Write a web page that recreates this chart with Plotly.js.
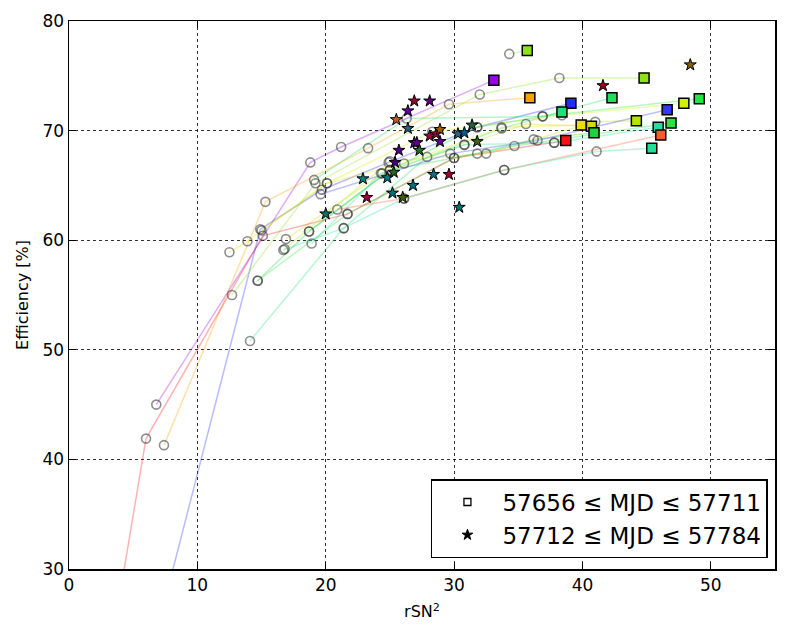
<!DOCTYPE html>
<html>
<head>
<meta charset="utf-8">
<script src="https://cdn.plot.ly/plotly-3.0.1.min.js"></script>
<style>
  body { margin: 0; background: #fff; }
  #plot { width: 789px; height: 638px; }
</style>
</head>
<body>
<div id="plot"></div>
<script>
// one series per night: rSN2 (x) and efficiency (y), last point is the square
const seriesX = [
  [6.8, 18.8, 21.2, 33.1],
  [34.3, 35.7],
  [7.4, 15.3, 23.3, 29.6, 35.9],
  [6.5, 14.9, 19.7, 24.9, 31.8, 39.1],
  [14.1, 21.4, 27.9, 33.7, 38.4],
  [19.1, 26.3, 36.9, 42.3],
  [12.7, 19.2, 32.0, 38.2, 44.8],
  [12.5, 13.9, 20.1, 26.1, 33.7, 39.9],
  [16.9, 24.4, 30.8, 35.6, 40.7],
  [14.7, 18.7, 25.0, 31.8, 36.2, 40.9],
  [3.5, 6.0, 15.1, 21.7, 30.0, 37.8, 38.7],
  [16.8, 25.0, 32.5, 41.0, 44.2],
  [19.6, 29.7, 36.5, 46.6],
  [15.0, 20.1, 28.3, 38.4, 47.9],
  [18.7, 25.0, 31.8, 36.9, 49.1],
  [14.7, 21.7, 30.0, 34.7, 46.9],
  [18.9, 24.3, 30.8, 37.8, 45.9],
  [20.9, 26.1, 33.9, 46.1],
  [16.7, 21.4, 26.1, 33.9, 41.1, 45.4]
];
const seriesY = [
  [45.0, 67.1, 68.5, 74.6],
  [77.0, 77.3],
  [41.3, 63.5, 68.4, 72.4, 73.0],
  [22.7, 61.0, 64.6, 67.1, 70.3, 72.5],
  [50.8, 61.1, 67.6, 70.2, 71.7],
  [65.5, 71.1, 71.3, 73.0],
  [55.0, 65.2, 73.3, 74.8, 74.8],
  [58.9, 59.9, 65.2, 67.0, 70.3, 70.5],
  [60.1, 66.1, 68.7, 70.6, 70.4],
  [56.3, 60.8, 66.4, 67.9, 69.2, 69.8],
  [24.4, 41.9, 60.4, 62.4, 67.5, 68.9, 69.1],
  [59.2, 67.2, 67.9, 70.8, 70.9],
  [64.2, 67.9, 69.1, 71.9],
  [60.9, 65.2, 69.9, 71.4, 72.5],
  [60.8, 66.4, 70.3, 71.3, 72.9],
  [56.3, 62.4, 67.5, 68.6, 70.7],
  [59.7, 66.1, 68.7, 68.9, 70.3],
  [62.8, 63.8, 66.4, 69.6],
  [59.1, 61.1, 63.8, 66.4, 68.1, 68.4]
];
const seriesColor = [
  '#9b00e8', '#8ee21c', '#ff9f00', '#1f2cff', '#22e070', '#1ee05a', '#90e020',
  '#e8e000', '#d4dc00', '#1fd040', '#ff1010', '#b4e400', '#3338ff', '#d2f000',
  '#1ee83c', '#2ee040', '#1ee0a0', '#ff5a28', '#1ee096'
];

// second period, single points
const starX = [20.0, 22.9, 23.2, 24.8, 25.2, 25.3, 25.4, 25.5, 25.7, 26.0, 26.4, 26.4, 26.9, 26.8, 26.9, 27.1,
  27.3, 28.1, 28.1, 28.4, 28.6, 28.9, 28.9, 29.6, 30.3, 30.4, 30.8, 31.4, 31.8, 41.6, 48.4];
const starY = [62.4, 65.6, 63.9, 65.7, 64.3, 66.2, 67.1, 71.0, 68.2, 63.9, 70.2, 71.8, 72.7, 65.0, 68.9, 68.9,
  68.2, 72.7, 69.5, 66.0, 69.7, 70.1, 69.0, 66.0, 69.7, 63.0, 69.8, 70.5, 69.0, 74.1, 76.0];
const starColor = ['#007068', '#00807a', '#a00040', '#007a80', '#00707a', '#206a20', '#400080', '#c06020',
  '#500090', '#406000', '#206080', '#6000a0', '#a00030', '#007080', '#5a0090', '#600088',
  '#207020', '#600080', '#a00038', '#007080', '#a00030', '#a06000', '#600090', '#a00030',
  '#306080', '#007070', '#006090', '#206040', '#406020', '#a00020', '#806000'];

const legendNames = ['57656 \u2264 MJD \u2264 57711', '57712 \u2264 MJD \u2264 57784'];

let traces = [];

for (let i = 0; i < seriesX.length; i++) {
  traces.push({
    x: seriesX[i],
    y: seriesY[i],
    type: 'scatter',
    mode: 'lines',
    line: {color: seriesColor[i], width: 1.5},
    opacity: 0.32,
    showlegend: false,
    hoverinfo: 'skip'
  });
}

for (let i = 0; i < seriesX.length; i++) {
  traces.push({
    x: seriesX[i].slice(0, -1),
    y: seriesY[i].slice(0, -1),
    type: 'scatter',
    mode: 'markers',
    marker: {symbol: 'circle-open', size: 9, color: 'rgba(50,50,50,0.55)', line: {width: 1.6}},
    showlegend: false
  });
}

traces.push({
  x: seriesX.map(a => a[a.length - 1]),
  y: seriesY.map(a => a[a.length - 1]),
  type: 'scatter',
  mode: 'markers',
  marker: {symbol: 'square', size: 10, color: seriesColor, line: {color: '#000', width: 1.5}},
  showlegend: false
});

traces.push({
  x: starX,
  y: starY,
  type: 'scatter',
  mode: 'markers',
  marker: {symbol: 'star', size: 9, color: starColor, line: {color: '#000', width: 1}},
  showlegend: false
});

// legend entries only
traces.push({
  x: [null], y: [null], type: 'scatter', mode: 'markers', name: legendNames[0],
  marker: {symbol: 'square', size: 7, color: '#fff', line: {color: '#000', width: 1.3}}
});
traces.push({
  x: [null], y: [null], type: 'scatter', mode: 'markers', name: legendNames[1],
  marker: {symbol: 'star', size: 8, color: '#000', line: {color: '#000', width: 1}}
});

const axisStyle = {
  showline: true, linecolor: '#000', linewidth: 1.5, mirror: 'ticks',
  ticks: 'inside', ticklen: 7, tickwidth: 1, tickcolor: '#000',
  showgrid: true, gridcolor: '#000', gridwidth: 0.8, griddash: 'dot',
  zeroline: false, tickfont: {size: 17, color: '#000'}
};

let layout = {
  width: 789,
  height: 638,
  margin: {l: 69, r: 14, t: 21, b: 69},
  paper_bgcolor: '#fff',
  plot_bgcolor: '#fff',
  font: {family: 'DejaVu Sans, sans-serif', color: '#000'},
  xaxis: Object.assign({}, axisStyle, {
    range: [0, 55], tick0: 0, dtick: 10,
    title: {text: 'rSN<sup>2</sup>', font: {size: 16}, standoff: 12}
  }),
  yaxis: Object.assign({}, axisStyle, {
    range: [30, 80], tick0: 30, dtick: 10,
    title: {text: 'Efficiency [%]', font: {size: 16}, standoff: 10}
  }),
  showlegend: true,
  legend: {
    x: 0.99, xanchor: 'right', y: 0.02, yanchor: 'bottom',
    bgcolor: '#fff', bordercolor: '#000', borderwidth: 1.5,
    font: {size: 23}, itemwidth: 60, tracegroupgap: 0
  }
};

Plotly.newPlot('plot', traces, layout, {staticPlot: true});
</script>
</body>
</html>
